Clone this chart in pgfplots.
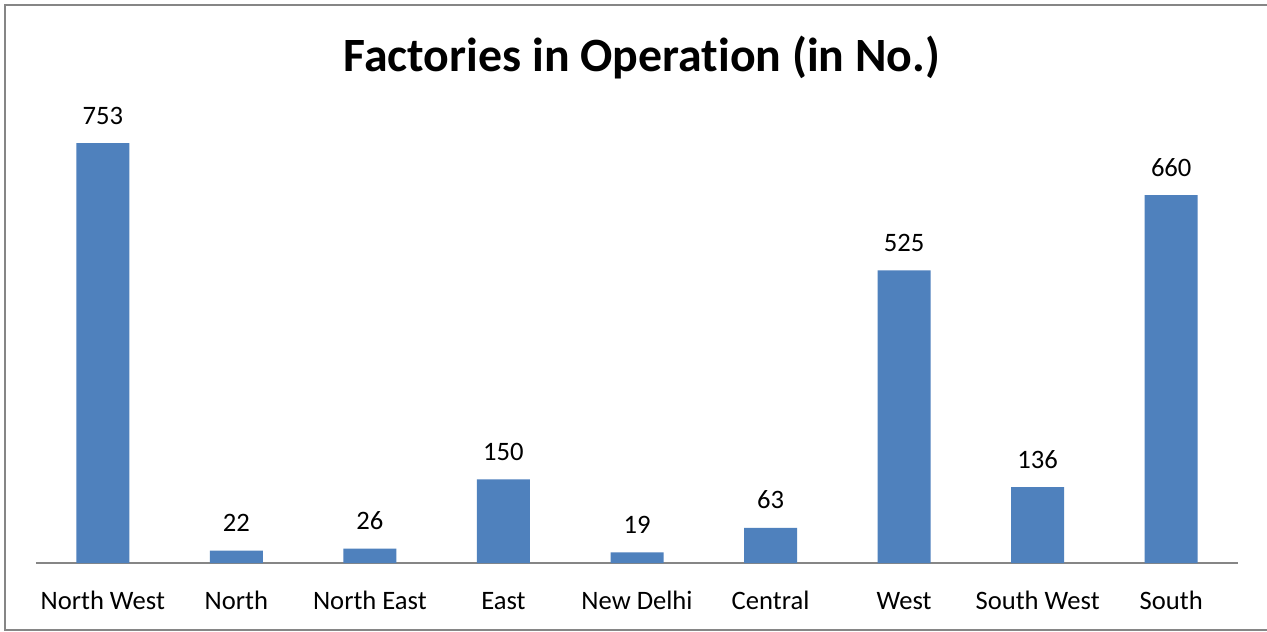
\documentclass[border=0pt]{standalone}
\usepackage{pgfplots}
\pgfplotsset{compat=1.18}
\usepackage{fontspec}
\setmainfont{Carlito}[Ligatures=NoCommon]
\definecolor{barblue}{HTML}{4F81BD}
\definecolor{framegray}{HTML}{868686}
\begin{document}
\begin{tikzpicture}
\useasboundingbox (0,0) rectangle (633.5pt,315.5pt);
\clip (0,0) rectangle (633.5pt,315.5pt);
\fill[white] (0,0) rectangle (633.5pt,315.5pt);
\draw[framegray, line width=0.9pt] (2.5pt,0.5pt) rectangle (640pt,313pt);
\begin{axis}[
  at={(18pt,34pt)}, anchor=south west,
  scale only axis, width=601pt, height=223pt,
  xmin=-0.5, xmax=8.5, ymin=0, ymax=800,
  enlargelimits=false,
  axis x line=bottom, hide y axis,
  x axis line style={-, draw=framegray, line width=0.8pt},
  xtick=data,
  xticklabels={North West,North,North East,East,New Delhi,Central,West,South West,South},
  xtick style={draw=none},
  xticklabel style={font=\fontsize{13.3pt}{16pt}\selectfont, anchor=base, yshift=-19pt, inner sep=0pt},
  ybar, bar width=26.5pt,
  nodes near coords,
  /pgf/number format/assume math mode=true,
  every node near coord/.append style={font=\fontsize{13.3pt}{16pt}\selectfont, text=black, inner sep=0pt, anchor=base, yshift=9.5pt},
  title={Factories in Operation (in No.)},
  title style={font=\bfseries\fontsize{23.9pt}{28pt}\selectfont, anchor=base, at={(rel axis cs:0.504,1.074)}, inner sep=0pt},
]
\addplot[fill=barblue, draw=none] coordinates {(0,753) (1,22) (2,26) (3,150) (4,19) (5,63) (6,525) (7,136) (8,660)};
\end{axis}
\end{tikzpicture}
\end{document}
